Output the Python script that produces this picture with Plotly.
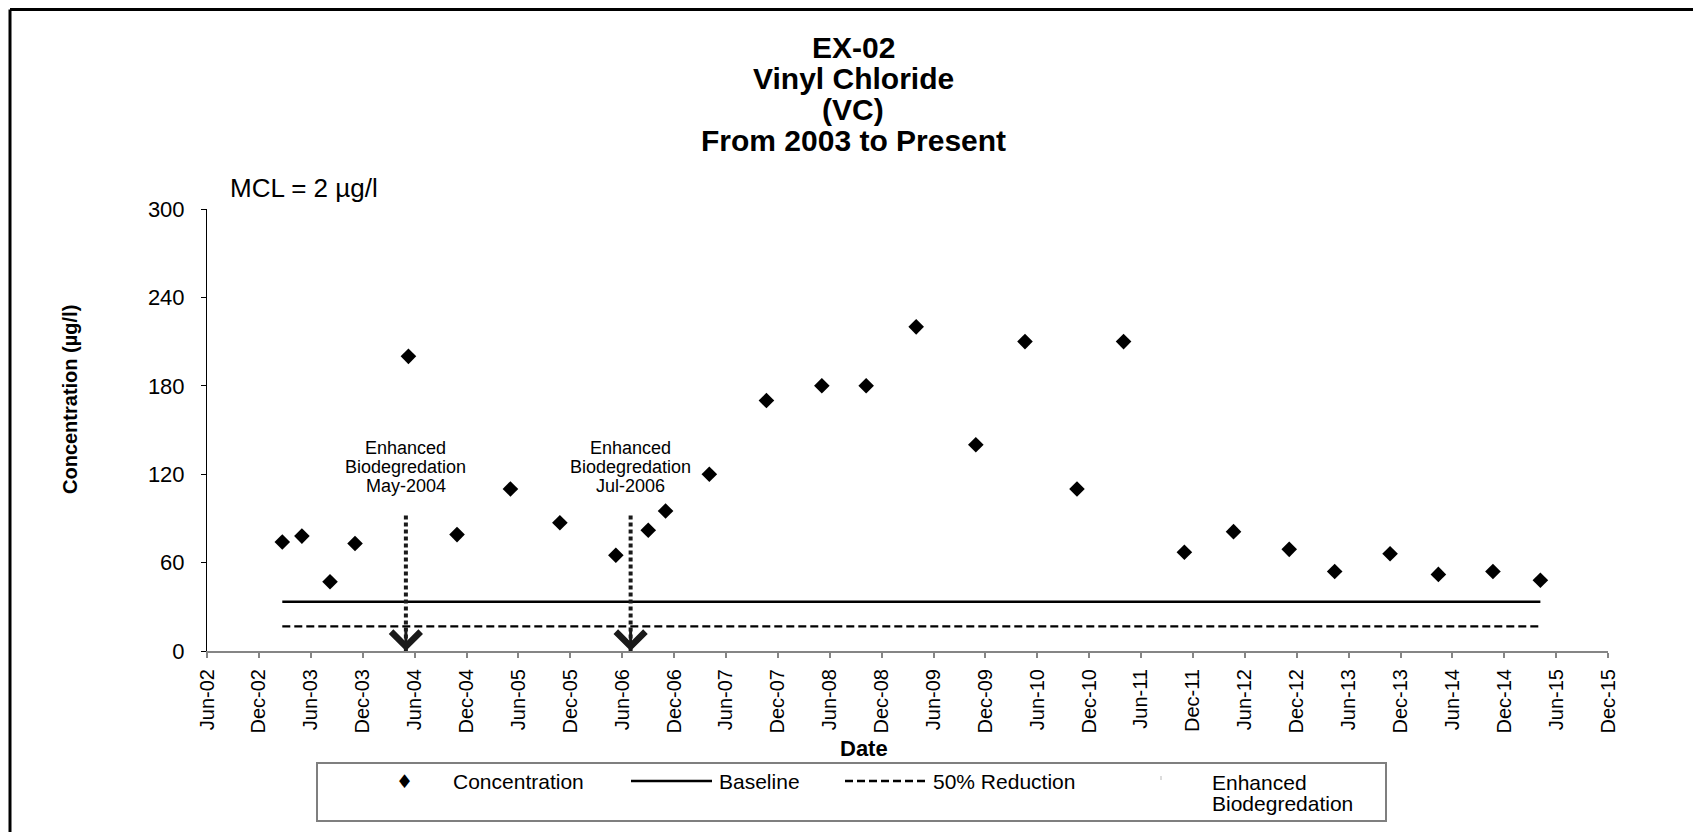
import plotly.graph_objects as go

# ---------------- data ----------------
sample_dates = ["2003-02-21", "2003-05-01", "2003-08-08", "2003-11-04", "2004-05-10",
                "2004-10-28", "2005-05-04", "2005-10-25", "2006-05-10", "2006-09-01",
                "2006-11-01", "2007-04-04", "2007-10-22", "2008-05-04", "2008-10-07",
                "2009-04-01", "2009-10-28", "2010-04-19", "2010-10-19", "2011-04-01",
                "2011-11-01", "2012-04-22", "2012-11-04", "2013-04-13", "2013-10-25",
                "2014-04-13", "2014-10-22", "2015-04-07"]
concentration = [74, 78, 47, 73, 200, 79, 110, 87, 65, 82, 95, 120, 170, 180, 180,
                 220, 140, 210, 110, 210, 67, 81, 69, 54, 66, 52, 54, 48]
baseline_value = 33.4
reduction_value = baseline_value / 2
event_dates = ["2004-05-01", "2006-07-01"]
event_labels = ["May-2004", "Jul-2006"]
event_arrow_top = 92
y_ticks = [0, 60, 120, 180, 240, 300]

# ---------------- layout helpers ----------------
W, H = 1693, 832
ML, MR, MT, MB = 207, 85, 209, 181
PW, PH = W - ML - MR, H - MT - MB
FONT = "Liberation Sans, Arial, sans-serif"


def px_x(px):
    return (px - ML) / PW


def px_y(py):
    return (H - MB - py) / PH


fig = go.Figure()

fig.add_trace(go.Scatter(
    x=sample_dates, y=concentration, mode="markers", name="Concentration",
    marker=dict(symbol="diamond", size=12, color="black"), showlegend=False))

fig.add_trace(go.Scatter(
    x=[sample_dates[0], sample_dates[-1]], y=[baseline_value, baseline_value],
    mode="lines", name="Baseline", line=dict(color="black", width=2.6), showlegend=False))

fig.add_trace(go.Scatter(
    x=[sample_dates[0], sample_dates[-1]], y=[reduction_value, reduction_value],
    mode="lines", name="50% Reduction",
    line=dict(color="black", width=2.4, dash="8px,4px"), showlegend=False))

for d in event_dates:
    fig.add_trace(go.Scatter(
        x=[d, d], y=[event_arrow_top, 0], mode="lines", name="Enhanced Biodegredation",
        line=dict(color="#1a1a1a", width=4, dash="4px,3px"), showlegend=False))

annotations = []
shapes = []

# arrow heads + labels for events
for d, lab in zip(event_dates, event_labels):
    annotations.append(dict(
        x=d, y=0, xref="x", yref="y", text="", showarrow=True, ax=0, ay=-24,
        arrowhead=4, arrowsize=1.9, arrowwidth=3, arrowcolor="#1a1a1a", standoff=0))
    for txt, dy in zip(["Enhanced", "Biodegredation", lab], [67, 48, 29]):
        annotations.append(dict(
            x=d, y=event_arrow_top, xref="x", yref="y", text=txt, showarrow=False,
            xanchor="center", yanchor="middle", yshift=dy,
            font=dict(family=FONT, size=18, color="black")))

# title (4 lines)
for txt, cy in zip(["EX-02", "Vinyl Chloride", "(VC)", "From 2003 to Present"],
                   [47, 78.5, 109.5, 140.5]):
    annotations.append(dict(
        x=px_x(853), y=px_y(cy), xref="paper", yref="paper", text="<b>%s</b>" % txt,
        showarrow=False, xanchor="center", yanchor="middle",
        font=dict(family=FONT, size=30, color="black")))

# MCL note
annotations.append(dict(
    x=px_x(228), y=px_y(188), xref="paper", yref="paper", text="MCL = 2 µg/l",
    showarrow=False, xanchor="left", yanchor="middle",
    font=dict(family=FONT, size=26, color="black")))

# axis titles
annotations.append(dict(
    x=px_x(70), y=px_y(400), xref="paper", yref="paper", text="<b>Concentration (µg/l)</b>",
    showarrow=False, textangle=-90, xanchor="center", yanchor="middle",
    font=dict(family=FONT, size=20, color="black")))
annotations.append(dict(
    x=px_x(864), y=px_y(748), xref="paper", yref="paper", text="<b>Date</b>",
    showarrow=False, xanchor="center", yanchor="middle",
    font=dict(family=FONT, size=22, color="black")))

# ---------------- manual legend ----------------
LEG_Y = 781
shapes.append(dict(type="rect", xref="paper", yref="paper",
                   x0=px_x(317), x1=px_x(1386), y0=px_y(763), y1=px_y(821),
                   line=dict(color="#7f7f7f", width=2), fillcolor="rgba(0,0,0,0)"))
annotations.append(dict(
    x=px_x(404), y=px_y(LEG_Y), xref="paper", yref="paper", text="♦",
    showarrow=False, xanchor="center", yanchor="middle",
    font=dict(family="DejaVu Sans", size=19, color="black")))
shapes.append(dict(type="line", xref="paper", yref="paper",
                   x0=px_x(631), x1=px_x(712), y0=px_y(LEG_Y), y1=px_y(LEG_Y),
                   line=dict(color="black", width=2.6)))
shapes.append(dict(type="line", xref="paper", yref="paper",
                   x0=px_x(845), x1=px_x(926), y0=px_y(LEG_Y), y1=px_y(LEG_Y),
                   line=dict(color="black", width=2.4, dash="8px,4px")))
shapes.append(dict(type="line", xref="paper", yref="paper",
                   x0=px_x(1161), x1=px_x(1161), y0=px_y(776), y1=px_y(780),
                   line=dict(color="#d0d0d0", width=1.5)))
for txt, lx, ly in [("Concentration", 451, LEG_Y), ("Baseline", 717, LEG_Y),
                    ("50% Reduction", 931, LEG_Y), ("Enhanced", 1210, 782),
                    ("Biodegredation", 1210, 803)]:
    annotations.append(dict(
        x=px_x(lx), y=px_y(ly), xref="paper", yref="paper", text=txt,
        showarrow=False, xanchor="left", yanchor="middle",
        font=dict(family=FONT, size=21, color="black")))

# outer chart frame (top and left edges; right/bottom edges lie outside the picture)
shapes.append(dict(type="line", xref="paper", yref="paper",
                   x0=px_x(10), x1=px_x(W), y0=px_y(9.5), y1=px_y(9.5),
                   line=dict(color="black", width=3)))
shapes.append(dict(type="line", xref="paper", yref="paper",
                   x0=px_x(10), x1=px_x(10), y0=px_y(9.5), y1=px_y(H),
                   line=dict(color="black", width=3)))

fig.update_layout(
    width=W, height=H, autosize=False,
    margin=dict(l=ML, r=MR, t=MT, b=MB, pad=0),
    paper_bgcolor="white", plot_bgcolor="white",
    font=dict(family=FONT, color="black"),
    showlegend=False,
    annotations=annotations, shapes=shapes,
    xaxis=dict(
        type="date", range=["2002-06-01", "2015-12-01"],
        tick0="2002-06-01", dtick="M6", tickformat="%b-%y", tickangle=-90,
        showgrid=False, zeroline=False, showline=True, linecolor="#858585", linewidth=2,
        ticks="outside", ticklen=5, tickcolor="#858585", tickwidth=1.5,
        ticklabelstandoff=3,
        tickfont=dict(family=FONT, size=20, color="black")),
    yaxis=dict(
        range=[0, 300], tickvals=y_ticks, ticktext=[str(v) for v in y_ticks],
        showgrid=False, zeroline=False, showline=True, linecolor="black", linewidth=1,
        ticks="outside", ticklen=5, tickcolor="black", tickwidth=1,
        ticklabelstandoff=12,
        tickfont=dict(family=FONT, size=22, color="black")),
)

fig.write_html(
    "out.html",
    config={"displayModeBar": False},
    post_script="document.documentElement.style.overflow='hidden';"
                "document.body.style.overflow='hidden';document.body.style.margin='0';")
